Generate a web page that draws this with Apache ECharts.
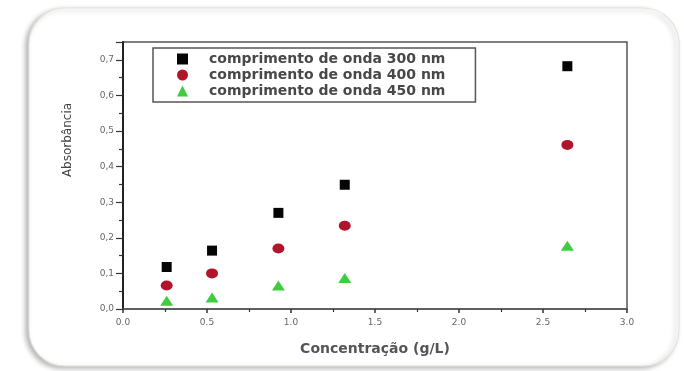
<!DOCTYPE html>
<html>
<head>
<meta charset="utf-8">
<style>html,body{margin:0;padding:0;background:#fff;}#c{width:684px;height:371px;}</style>
<script src="https://cdn.jsdelivr.net/npm/echarts@6/dist/echarts.min.js"></script>
</head>
<body>
<div id="c"></div>
<script>
const concentrations = [0.26, 0.53, 0.925, 1.32, 2.645];
const abs300 = [0.118, 0.164, 0.270, 0.349, 0.682];
const abs400 = [0.066, 0.100, 0.170, 0.234, 0.461];
const abs450 = [0.023, 0.032, 0.066, 0.087, 0.178];
const seriesNames = ['comprimento de onda 300 nm', 'comprimento de onda 400 nm', 'comprimento de onda 450 nm'];
const xTitle = 'Concentração (g/L)';
const yTitle = 'Absorbância';

const pairs = (xs, ys) => xs.map((x, i) => [x, ys[i]]);
const chart = echarts.init(document.getElementById('c'));
const font = 'DejaVu Sans';
chart.setOption({
  animation: false,
  backgroundColor: '#fff',
  graphic: [
    {type: 'rect', z: -10, shape: {x: 29, y: 8, width: 650, height: 358, r: 36},
     style: {fill: '#fff', stroke: '#e6e5dc', lineWidth: 1.2, shadowBlur: 5, shadowColor: 'rgba(0,0,0,0.28)', shadowOffsetX: -3, shadowOffsetY: 2}},
    {type: 'text', x: 68, y: 140, rotation: Math.PI / 2, z: 10,
     style: {text: yTitle, font: '12px ' + font, fill: '#444', align: 'center', verticalAlign: 'middle'}}
  ],
  grid: {left: 123, top: 42, width: 504, height: 267, show: true, borderColor: '#555', borderWidth: 1.5, backgroundColor: 'transparent'},
  legend: {
    orient: 'vertical', left: 153, top: 48,
    padding: [4, 30, 4, 24], itemGap: 2,
    itemWidth: 11, itemHeight: 11,
    borderColor: '#555', borderWidth: 1.5, backgroundColor: '#fff',
    textStyle: {fontFamily: font, fontSize: 14, color: '#484848', fontWeight: 'bold', padding: [0, 0, 0, 16]},
    data: seriesNames
  },
  xAxis: {
    type: 'value', min: 0, max: 3, interval: 0.5,
    name: xTitle, nameLocation: 'middle', nameGap: 33,
    nameTextStyle: {fontFamily: font, fontSize: 14, color: '#555', fontWeight: 'bold'},
    axisLine: {lineStyle: {color: '#555', width: 1.5}},
    axisTick: {inside: false, length: 4, lineStyle: {color: '#333', width: 1.5}},
    minorTick: {show: true, splitNumber: 2, length: 3, lineStyle: {color: '#333', width: 1.2}},
    axisLabel: {fontFamily: font, fontSize: 9, color: '#666', margin: 9, formatter: v => v.toFixed(1)},
    splitLine: {show: false}
  },
  yAxis: {
    type: 'value', min: 0, max: 0.75, interval: 0.1,
    axisLine: {lineStyle: {color: '#222', width: 2}},
    axisTick: {inside: false, length: 7, lineStyle: {color: '#333', width: 1.2}},
    minorTick: {show: true, splitNumber: 2, length: 4, lineStyle: {color: '#333', width: 1.2}},
    axisLabel: {fontFamily: font, fontSize: 9, color: '#666', margin: 9, formatter: v => v.toFixed(1).replace('.', ','), showMaxLabel: false},
    splitLine: {show: false}
  },
  series: [
    {name: seriesNames[0], type: 'scatter', symbol: 'rect', symbolSize: 10, itemStyle: {color: '#050505', opacity: 1}, data: pairs(concentrations, abs300)},
    {name: seriesNames[1], type: 'scatter', symbol: 'circle', symbolSize: [12, 10], itemStyle: {color: '#b0162a', opacity: 1}, data: pairs(concentrations, abs400)},
    {name: seriesNames[2], type: 'scatter', symbol: 'triangle', symbolSize: [13, 10], itemStyle: {color: '#3fcc3f', opacity: 1}, data: pairs(concentrations, abs450)}
  ]
});
</script>
</body>
</html>
